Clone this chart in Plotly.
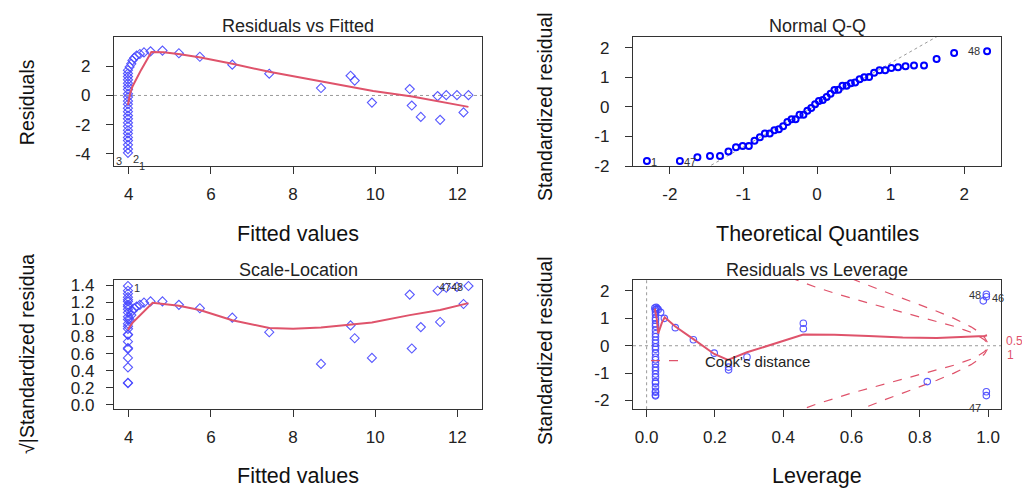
import plotly.graph_objects as go

# ---------------- data ----------------
fitted_values = [3.98, 3.98, 3.98, 3.98, 3.98, 3.98, 3.98, 3.98, 3.98, 3.98, 3.98, 3.98,
                 3.98, 3.98, 3.98, 3.98, 3.98, 3.98, 3.98, 3.98, 3.98, 3.98, 3.98, 3.98,
                 4.02, 4.06, 4.09, 4.13, 4.19, 4.27, 4.37, 4.53, 4.82,
                 5.22, 5.73, 6.52, 7.42, 8.68, 9.40, 9.50, 9.92, 10.84, 10.89, 11.11,
                 11.52, 11.58, 11.73, 11.99, 12.15, 12.27]
residuals = [-3.93, -3.67, -3.38, -3.09, -2.87, -2.60, -2.38, -2.11, -1.87, -1.60, -1.38, -1.11,
             -0.87, -0.60, -0.38, -0.11, 0.11, 0.40, 0.62, 0.84, 1.07, 1.29, 1.51, 1.73,
             1.95, 2.17, 2.40, 2.57, 2.73, 2.84, 2.95, 3.02, 3.07,
             2.89, 2.65, 2.11, 1.49, 0.51, 1.35, 1.02, -0.49, 0.44, -0.69, -1.47,
             -0.04, -1.67, 0.02, 0.02, -1.16, 0.02]
sqrt_abs_std_resid = [1.39, 1.335, 1.30, 1.26, 1.23, 1.21, 1.17, 1.15, 1.12, 1.08, 1.03, 1.00,
                      0.95, 0.92, 0.89, 0.825, 0.82, 0.74, 0.665, 0.655, 0.55, 0.44, 0.26, 0.255,
                      1.00, 1.05, 1.10, 1.13, 1.15, 1.17, 1.195, 1.21, 1.21,
                      1.17, 1.13, 1.02, 0.85, 0.48, 0.93, 0.78, 0.55, 1.29, 0.66, 0.91,
                      1.335, 0.97, 1.37, 1.38, 1.18, 1.39]

rvf_smooth_x = [3.98, 4.03, 4.09, 4.30, 4.55, 4.85, 5.25, 5.75, 6.55, 7.45, 8.70, 9.50, 9.95, 10.90, 11.60, 12.27]
rvf_smooth_y = [-0.65, 0.10, 0.62, 1.75, 2.97, 2.96, 2.82, 2.60, 2.15, 1.60, 0.95, 0.55, 0.30, -0.07, -0.45, -0.78]

sl_smooth_x = [3.98, 4.09, 4.58, 4.85, 5.22, 5.73, 6.52, 7.42, 8.00, 8.68, 9.40, 9.92, 10.84, 11.58, 12.27]
sl_smooth_y = [0.88, 0.96, 1.195, 1.18, 1.16, 1.11, 0.99, 0.90, 0.89, 0.905, 0.94, 0.965, 1.05, 1.11, 1.19]

qq_theoretical = [-2.311, -1.863, -1.625, -1.454, -1.318, -1.203, -1.101, -1.010, -0.926, -0.849,
                  -0.776, -0.708, -0.642, -0.579, -0.518, -0.460, -0.402, -0.346, -0.291, -0.237,
                  -0.184, -0.131, -0.078, -0.026, 0.026, 0.078, 0.131, 0.184, 0.237, 0.291,
                  0.346, 0.402, 0.460, 0.518, 0.579, 0.642, 0.708, 0.776, 0.849, 0.926,
                  1.010, 1.101, 1.203, 1.318, 1.454, 1.625, 1.863, 2.311]
qq_sample = [-1.83, -1.83, -1.70, -1.66, -1.66, -1.51, -1.37, -1.32, -1.32, -1.15,
             -1.03, -0.90, -0.90, -0.79, -0.76, -0.66, -0.51, -0.42, -0.42, -0.27,
             -0.27, -0.13, -0.04, 0.09, 0.20, 0.23, 0.33, 0.44, 0.57, 0.58,
             0.71, 0.71, 0.80, 0.82, 0.93, 1.00, 1.01, 1.15, 1.24, 1.24,
             1.31, 1.34, 1.37, 1.40, 1.40, 1.62, 1.82, 1.88]
qq_line_x = [-2.5, 2.5]
qq_line_y = [-3.48, 3.61]

leverage = [0.026, 0.026, 0.026, 0.026, 0.026, 0.026, 0.026, 0.026, 0.026, 0.026,
            0.026, 0.026, 0.026, 0.026, 0.026, 0.026, 0.026, 0.026, 0.026, 0.026,
            0.026, 0.026, 0.026, 0.026, 0.026, 0.026, 0.026, 0.026, 0.026,
            0.024, 0.028, 0.031, 0.034, 0.041, 0.052, 0.084, 0.137, 0.198, 0.240,
            0.240, 0.294, 0.459, 0.459, 0.822, 0.986, 0.995, 0.995, 0.995, 0.995]
std_resid_lev = [-1.83, -1.80, -1.70, -1.66, -1.51, -1.37, -1.31, -1.15, -1.03, -0.90,
                 -0.79, -0.66, -0.51, -0.42, -0.27, -0.13, -0.04, 0.09, 0.20, 0.33,
                 0.44, 0.57, 0.71, 0.80, 0.93, 1.01, 1.15, 1.24, 1.31,
                 1.38, 1.40, 1.36, 1.32, 1.22, 1.00, 0.66, 0.22, -0.27, -0.78,
                 -0.88, -0.41, 0.82, 0.62, -1.31, 1.64, 1.88, 1.79, -1.68, -1.82]
lev_smooth_x = [0.024, 0.030, 0.034, 0.045, 0.053, 0.084, 0.137, 0.198, 0.238, 0.294,
                0.459, 0.55, 0.65, 0.75, 0.85, 0.95, 0.99, 0.997]
lev_smooth_y = [1.36, 0.95, 0.45, 0.85, 1.04, 0.70, 0.24, -0.30, -0.52, -0.24,
                0.41, 0.40, 0.36, 0.30, 0.28, 0.32, 0.36, 0.38]

cook05_h = [0.42, 0.44, 0.50, 0.55, 0.60, 0.65, 0.70, 0.75, 0.80, 0.85, 0.90, 0.93, 0.95, 0.97, 0.98, 0.99, 0.998]
cook05_upper = [2.49, 2.39, 2.12, 1.92, 1.73, 1.56, 1.39, 1.22, 1.06, 0.89, 0.71, 0.58, 0.49, 0.37, 0.30, 0.21, 0.095]
cook05_lower = [-2.49, -2.39, -2.12, -1.92, -1.73, -1.56, -1.39, -1.22, -1.06, -0.89, -0.71, -0.58, -0.49, -0.37, -0.30, -0.21, -0.095]
cook1_h = [0.60, 0.62, 0.65, 0.70, 0.75, 0.80, 0.85, 0.90, 0.93, 0.95, 0.97, 0.98, 0.99, 0.998]
cook1_upper = [2.45, 2.35, 2.20, 1.96, 1.73, 1.50, 1.26, 1.00, 0.82, 0.69, 0.53, 0.43, 0.30, 0.13]
cook1_lower = [-2.45, -2.35, -2.20, -1.96, -1.73, -1.50, -1.26, -1.00, -0.82, -0.69, -0.53, -0.43, -0.30, -0.13]

fitted_ticks = [4, 6, 8, 10, 12]
fitted_tick_text = ["4", "6", "8", "10", "12"]
resid_ticks = [-4, -2, 0, 2]
resid_tick_text = ["-4", "-2", "0", "2"]
qq_ticks = [-2, -1, 0, 1, 2]
qq_tick_text = ["-2", "-1", "0", "1", "2"]
sl_ticks = [0.0, 0.2, 0.4, 0.6, 0.8, 1.0, 1.2, 1.4]
sl_tick_text = ["0.0", "0.2", "0.4", "0.6", "0.8", "1.0", "1.2", "1.4"]
lev_ticks = [0.0, 0.2, 0.4, 0.6, 0.8, 1.0]
lev_tick_text = ["0.0", "0.2", "0.4", "0.6", "0.8", "1.0"]
lev_y_ticks = [-2, -1, 0, 1, 2]
lev_y_tick_text = ["-2", "-1", "0", "1", "2"]

# ---------------- styling ----------------
W, H = 1022, 498
FONT = "Liberation Sans, Arial, sans-serif"
INK = "#222222"
RED = "#DF536B"
PT_BLUE = "rgba(70,70,255,0.9)"
GRAY = "#9a9a9a"

def fx(px):
    return px / W

def fy(py):
    return 1 - py / H

LEFT_COL = (114, 482)
RIGHT_COL = (633, 1001)
TOP_ROW = (34, 167)
BOT_ROW = (284, 417)

fig = go.Figure()

open_diamond = dict(symbol="diamond-open", size=7, color=PT_BLUE, line=dict(width=1.1, color=PT_BLUE))

# Panel 1: Residuals vs Fitted
fig.add_trace(go.Scatter(x=fitted_values, y=residuals, mode="markers", xaxis="x", yaxis="y",
                         marker=open_diamond, showlegend=False, hoverinfo="skip"))
fig.add_trace(go.Scatter(x=rvf_smooth_x, y=rvf_smooth_y, mode="lines", xaxis="x", yaxis="y",
                         line=dict(color=RED, width=2), showlegend=False, hoverinfo="skip"))

# Panel 2: Normal Q-Q
fig.add_trace(go.Scatter(x=qq_line_x, y=qq_line_y, mode="lines", xaxis="x2", yaxis="y2",
                         line=dict(color=GRAY, width=1, dash="dot"), showlegend=False, hoverinfo="skip"))
fig.add_trace(go.Scatter(x=qq_theoretical, y=qq_sample, mode="markers", xaxis="x2", yaxis="y2",
                         marker=dict(symbol="circle-open", size=6, color="#0000ff", line=dict(width=2, color="#0000ff")),
                         showlegend=False, hoverinfo="skip"))

# Panel 3: Scale-Location
fig.add_trace(go.Scatter(x=fitted_values, y=sqrt_abs_std_resid, mode="markers", xaxis="x3", yaxis="y3",
                         marker=open_diamond, showlegend=False, hoverinfo="skip"))
fig.add_trace(go.Scatter(x=sl_smooth_x, y=sl_smooth_y, mode="lines", xaxis="x3", yaxis="y3",
                         line=dict(color=RED, width=2), showlegend=False, hoverinfo="skip"))

# Panel 4: Residuals vs Leverage
for hh, yy in [(cook05_h, cook05_upper), (cook05_h, cook05_lower),
               (cook1_h, cook1_upper), (cook1_h, cook1_lower)]:
    fig.add_trace(go.Scatter(x=hh, y=yy, mode="lines", xaxis="x4", yaxis="y4",
                             line=dict(color=RED, width=1.2, dash="dash"),
                             showlegend=False, hoverinfo="skip"))
fig.add_trace(go.Scatter(x=leverage, y=std_resid_lev, mode="markers", xaxis="x4", yaxis="y4",
                         marker=dict(symbol="circle-open", size=6.5, color=PT_BLUE, line=dict(width=1.1, color=PT_BLUE)),
                         showlegend=False, hoverinfo="skip"))
fig.add_trace(go.Scatter(x=lev_smooth_x, y=lev_smooth_y, mode="lines", xaxis="x4", yaxis="y4",
                         line=dict(color=RED, width=2), showlegend=False, hoverinfo="skip"))

def axis(domain, rng, ticks, text, anchor, standoff):
    return dict(domain=domain, range=rng, anchor=anchor, tickvals=ticks, ticktext=text,
                showgrid=False, zeroline=False, showline=True, mirror=True,
                linecolor="#333333", linewidth=1.3, ticks="outside", ticklen=7,
                tickwidth=1.2, tickcolor="#333333", ticklabelstandoff=standoff,
                tickfont=dict(family=FONT, size=17, color=INK), fixedrange=True)

xd_left = [fx(LEFT_COL[0]), fx(LEFT_COL[1])]
xd_right = [fx(RIGHT_COL[0]), fx(RIGHT_COL[1])]
yd_top = [fy(TOP_ROW[1]), fy(TOP_ROW[0])]
yd_bot = [fy(BOT_ROW[1]), fy(BOT_ROW[0])]

fig.update_layout(
    xaxis=axis(xd_left, [3.64, 12.60], fitted_ticks, fitted_tick_text, "y", 5),
    yaxis=axis(yd_top, [-4.85, 4.0], resid_ticks, resid_tick_text, "x", 12),
    xaxis2=axis(xd_right, [-2.5, 2.5], qq_ticks, qq_tick_text, "y2", 5),
    yaxis2=axis(yd_top, [-2.01, 2.36], qq_ticks, qq_tick_text, "x2", 12),
    xaxis3=axis(xd_left, [3.64, 12.60], fitted_ticks, fitted_tick_text, "y3", 5),
    yaxis3=axis(yd_bot, [-0.05, 1.46], sl_ticks, sl_tick_text, "x3", 8),
    xaxis4=axis(xd_right, [-0.0399, 1.0379], lev_ticks, lev_tick_text, "y4", 5),
    yaxis4=axis(yd_bot, [-2.32, 2.40], lev_y_ticks, lev_y_tick_text, "x4", 12),
)

# reference lines
fig.add_shape(type="line", xref="x domain", yref="y", x0=0, x1=1, y0=0, y1=0,
              line=dict(color=GRAY, width=1, dash="dot"), layer="below")
fig.add_shape(type="line", xref="x4 domain", yref="y4", x0=0, x1=1, y0=0, y1=0,
              line=dict(color=GRAY, width=1, dash="dot"), layer="below")
fig.add_shape(type="line", xref="x4", yref="y4 domain", x0=0, x1=0, y0=0, y1=1,
              line=dict(color=GRAY, width=1, dash="dot"), layer="below")
# Cook's distance legend key
fig.add_shape(type="line", xref="paper", yref="paper", x0=fx(651), x1=fx(687), y0=fy(367), y1=fy(367),
              line=dict(color=RED, width=1.2, dash="dash"))

ann = []
def paper_text(text, px, py, size, angle=0, color=INK, anchor="center"):
    ann.append(dict(text=text, x=fx(px), y=fy(py), xref="paper", yref="paper",
                    xanchor=anchor, yanchor="middle", showarrow=False, textangle=angle,
                    font=dict(family=FONT, size=size, color=color)))

# titles
paper_text("Residuals vs Fitted", 298, 23, 18)
paper_text("Normal Q-Q", 817, 23, 18)
paper_text("Scale-Location", 298, 274, 18)
paper_text("Residuals vs Leverage", 817, 274, 18)
# axis titles
paper_text("Fitted values", 298, 237, 21.5, color="#111111")
paper_text("Theoretical Quantiles", 817, 237, 21.5, color="#111111")
paper_text("Fitted values", 298, 486, 21.5, color="#111111")
paper_text("Leverage", 817, 486, 21.5, color="#111111")
paper_text("Residuals", 27, 101, 19.5, -90, color="#111111")
paper_text("Standardized residual", 545, 106, 19.5, -90, color="#111111")
paper_text("\u221a|Standardized residua", 27, 360, 19.5, -90, color="#111111")
paper_text("Standardized residual", 545, 357, 19.5, -90, color="#111111")
# Cook's legend text and level labels on the right
paper_text("Cook's distance", 703, 368, 15, anchor="left")
paper_text("0.5", 1014, 347, 12, color=RED)
paper_text("1", 1010, 361, 12, color=RED)

def data_text(text, xr, yr, x, y):
    ann.append(dict(text=text, x=x, y=y, xref=xr, yref=yr, xanchor="center", yanchor="middle",
                    showarrow=False, font=dict(family=FONT, size=11, color="#333333")))

data_text("3", "x", "y", 3.75, -4.46)
data_text("2", "x", "y", 4.17, -4.36)
data_text("1", "x", "y", 4.33, -4.80)
data_text("1", "x2", "y2", -2.22, -1.88)
data_text("47", "x2", "y2", -1.73, -1.87)
data_text("48", "x2", "y2", 2.13, 1.88)
data_text("1", "x3", "y3", 4.19, 1.37)
data_text("47", "x3", "y3", 11.70, 1.375)
data_text("48", "x3", "y3", 11.99, 1.375)
data_text("48", "x4", "y4", 0.962, 1.86)
data_text("46", "x4", "y4", 1.03, 1.76)
data_text("47", "x4", "y4", 0.962, -2.29)

fig.update_layout(
    annotations=ann,
    width=W, height=H, autosize=False,
    margin=dict(l=0, r=0, t=0, b=0),
    paper_bgcolor="white", plot_bgcolor="white",
    font=dict(family=FONT, color=INK),
    showlegend=False,
)

fig.write_html("out.html")
